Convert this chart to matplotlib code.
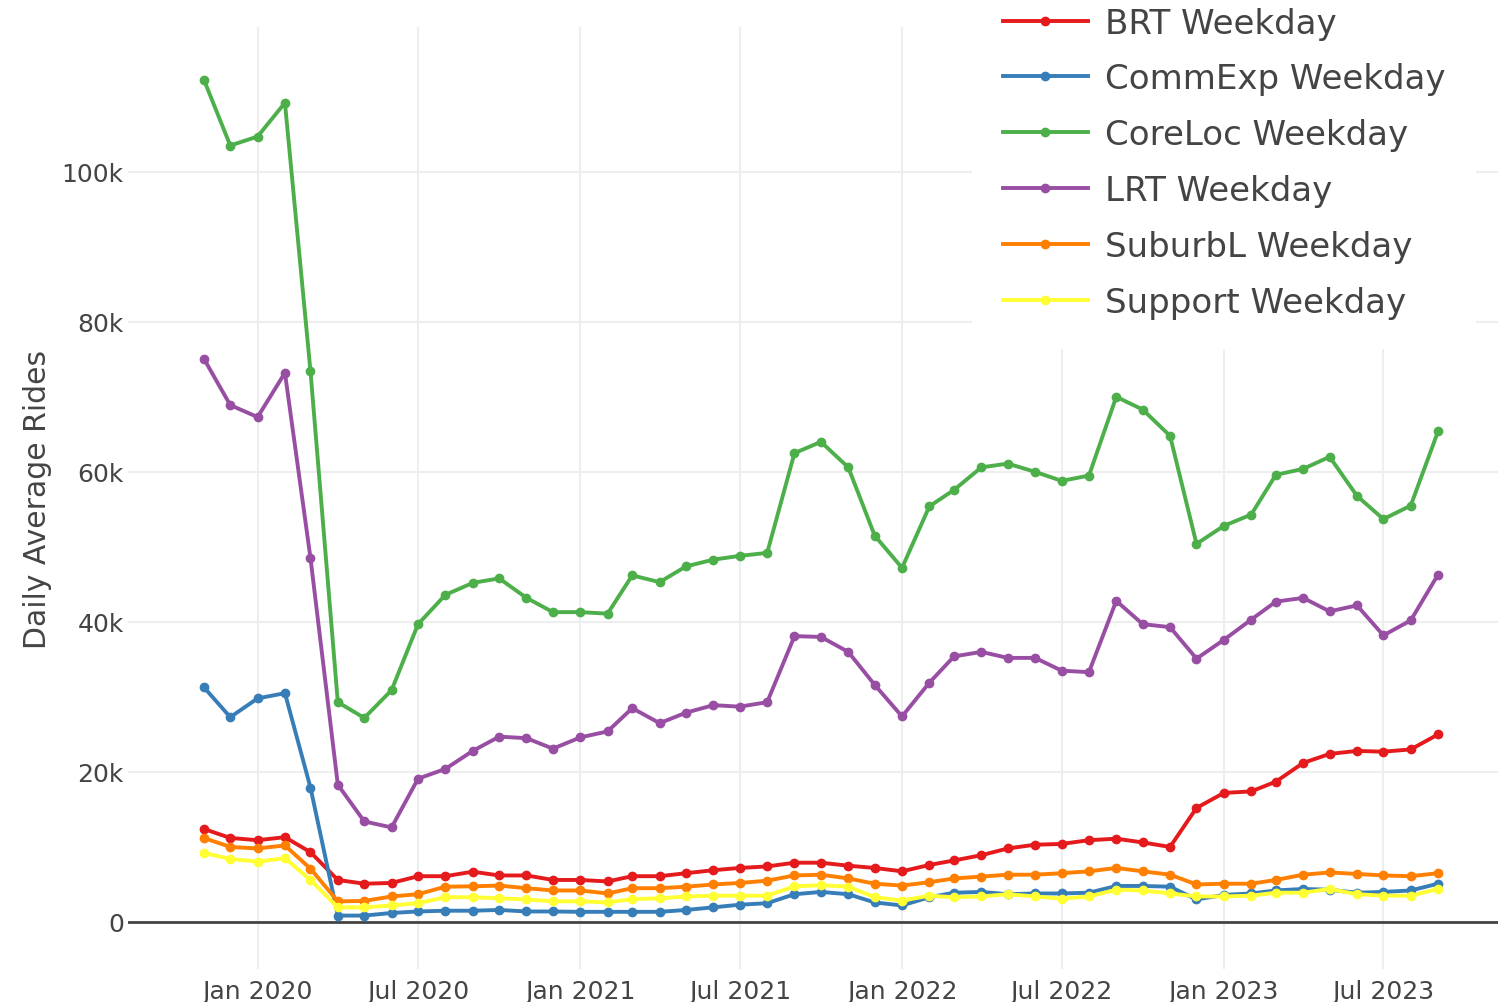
import matplotlib
matplotlib.use('Agg')
import matplotlib.pyplot as plt
import pandas as pd

months = pd.date_range('2019-11-01', periods=47, freq='MS')

brt = [12.4, 11.2, 10.9, 11.3, 9.3, 5.6, 5.1, 5.2, 6.1, 6.1,
       6.7, 6.2, 6.2, 5.6, 5.6, 5.4, 6.1, 6.1, 6.5, 6.9,
       7.2, 7.4, 7.9, 7.9, 7.5, 7.2, 6.75, 7.6, 8.2, 8.9,
       9.8, 10.3, 10.4, 10.9, 11.1, 10.6, 10.0, 15.2, 17.2, 17.4,
       18.7, 21.2, 22.4, 22.8, 22.7, 23.0, 25.0]
commexp = [31.3, 27.3, 29.8, 30.5, 17.9, 0.85, 0.85, 1.2, 1.4, 1.5,
           1.5, 1.6, 1.4, 1.4, 1.35, 1.35, 1.35, 1.35, 1.6, 1.95,
           2.3, 2.5, 3.7, 4.0, 3.7, 2.6, 2.2, 3.3, 3.9, 4.0,
           3.7, 3.8, 3.8, 3.9, 4.8, 4.8, 4.7, 3.0, 3.6, 3.8,
           4.2, 4.4, 4.3, 3.9, 4.0, 4.2, 5.1]
coreloc = [112.3, 103.5, 104.7, 109.2, 73.4, 29.3, 27.2, 30.9, 39.7, 43.6,
           45.2, 45.8, 43.2, 41.3, 41.3, 41.1, 46.2, 45.3, 47.4, 48.3,
           48.8, 49.2, 62.5, 64.0, 60.6, 51.5, 47.2, 55.4, 57.6, 60.6,
           61.1, 60.0, 58.8, 59.5, 70.0, 68.3, 64.8, 50.4, 52.8, 54.3,
           59.6, 60.4, 62.0, 56.8, 53.7, 55.5, 65.4]
lrt = [75.1, 68.9, 67.3, 73.2, 48.5, 18.3, 13.4, 12.6, 19.1, 20.4,
       22.8, 24.7, 24.5, 23.1, 24.6, 25.4, 28.5, 26.5, 27.9, 28.9,
       28.7, 29.3, 38.1, 38.0, 36.0, 31.6, 27.4, 31.9, 35.4, 36.0,
       35.2, 35.2, 33.5, 33.3, 42.8, 39.7, 39.3, 35.1, 37.6, 40.3,
       42.7, 43.2, 41.4, 42.2, 38.2, 40.2, 46.3]
suburbl = [11.2, 10.0, 9.8, 10.2, 7.1, 2.75, 2.8, 3.4, 3.7, 4.7,
           4.75, 4.85, 4.5, 4.2, 4.2, 3.8, 4.5, 4.5, 4.7, 5.0,
           5.2, 5.5, 6.2, 6.3, 5.8, 5.1, 4.85, 5.3, 5.8, 6.05,
           6.3, 6.3, 6.5, 6.75, 7.2, 6.75, 6.3, 5.0, 5.1, 5.1,
           5.6, 6.3, 6.6, 6.4, 6.2, 6.1, 6.5]
support = [9.2, 8.4, 8.05, 8.5, 5.6, 1.95, 1.95, 2.2, 2.5, 3.3,
           3.3, 3.15, 3.0, 2.75, 2.75, 2.6, 3.05, 3.15, 3.4, 3.5,
           3.5, 3.5, 4.75, 4.9, 4.7, 3.3, 2.85, 3.5, 3.3, 3.4,
           3.7, 3.4, 3.1, 3.4, 4.3, 4.2, 3.8, 3.4, 3.4, 3.5,
           3.9, 3.9, 4.4, 3.7, 3.5, 3.5, 4.4]

names = ['BRT Weekday', 'CommExp Weekday', 'CoreLoc Weekday',
         'LRT Weekday', 'SuburbL Weekday', 'Support Weekday']
series = [brt, commexp, coreloc, lrt, suburbl, support]
colors = ['#e41a1c', '#377eb8', '#4daf4a', '#984ea3', '#ff7f00', '#ffff33']

plt.rcParams['font.family'] = 'DejaVu Sans'

fig = plt.figure(figsize=(14.98, 10.03), dpi=100)
ax = fig.add_axes([128/1498, 1 - 970/1003, 1 - 128/1498, (970 - 28)/1003])

for name, vals, c in zip(names, series, colors):
    ax.plot(months, [v * 1000 for v in vals], color=c, lw=2.8,
            marker='o', ms=6, label=name, zorder=3)

ax.axhline(0, color='#444444', lw=2, zorder=2)

ax.set_xlim(pd.Timestamp('2019-08-07'), pd.Timestamp('2023-11-08'))
ax.set_ylim(-6270, 119300)

xt = pd.date_range('2020-01-01', '2023-07-01', freq='6MS')
ax.set_xticks(xt)
ax.set_xticklabels([d.strftime('%b %Y') for d in xt])
yt = [0, 20000, 40000, 60000, 80000, 100000]
ax.set_yticks(yt)
ax.set_yticklabels(['0' if v == 0 else '%dk' % (v // 1000) for v in yt])

ax.grid(True, color='#eeeeee', lw=1.5, zorder=0)
ax.set_axisbelow(True)
for s in ax.spines.values():
    s.set_visible(False)
ax.tick_params(length=0, labelsize=18, labelcolor='#444444')
ax.tick_params(axis='x', pad=7)
ax.tick_params(axis='y', pad=3)
ax.set_ylabel('Daily Average Rides', fontsize=21.5, color='#444444', labelpad=7)

leg = ax.legend(loc='upper left', bbox_to_anchor=(972/1498, 1.023),
                bbox_transform=fig.transFigure, fontsize=24.5,
                frameon=True, facecolor='white', edgecolor='none',
                framealpha=1, fancybox=False, borderaxespad=0,
                handlelength=2.5, handletextpad=0.5, labelspacing=0.67,
                borderpad=0.9, markerscale=1.0)
leg.set_zorder(5)
for t in leg.get_texts():
    t.set_color('#444444')

fig.savefig('out.png', dpi=100)
